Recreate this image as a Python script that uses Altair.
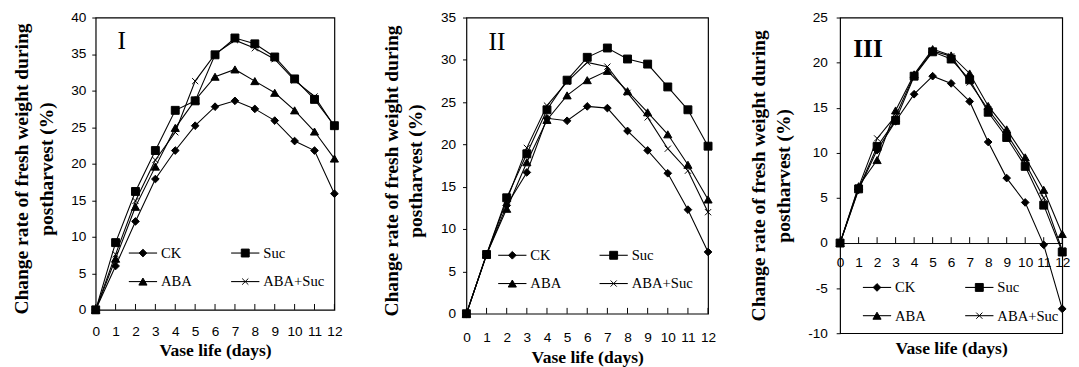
import altair as alt
import pandas as pd

days = list(range(13))
series = ["CK", "Suc", "ABA", "ABA+Suc"]

# Panel I
p1_ck = [0, 6.0, 12.1, 17.9, 21.8, 25.2, 27.8, 28.6, 27.5, 25.9, 23.1, 21.8, 15.9]
p1_suc = [0, 9.2, 16.2, 21.8, 27.3, 28.6, 34.9, 37.2, 36.4, 34.6, 31.6, 28.8, 25.2]
p1_aba = [0, 7.0, 14.1, 19.6, 24.9, 28.7, 31.9, 32.9, 31.3, 29.7, 27.3, 24.4, 20.7]
p1_as = [0, 7.6, 14.9, 20.5, 24.3, 31.3, 35.0, 36.9, 35.8, 34.3, 31.4, 29.2, 25.1]

# Panel II
p2_ck = [0, 7.0, 12.8, 16.7, 23.1, 22.8, 24.5, 24.3, 21.6, 19.3, 16.6, 12.3, 7.3]
p2_suc = [0, 7.0, 13.7, 18.9, 24.1, 27.6, 30.3, 31.4, 30.1, 29.5, 26.8, 24.1, 19.8]
p2_aba = [0, 7.0, 12.4, 17.9, 22.9, 25.8, 27.6, 28.7, 26.3, 23.8, 21.2, 17.6, 13.5]
p2_as = [0, 7.0, 13.4, 19.6, 24.6, 27.4, 29.7, 29.2, 26.1, 23.2, 19.5, 16.9, 12.0]

# Panel III
p3_ck = [0, 5.9, 10.3, 13.5, 16.5, 18.5, 17.7, 15.7, 11.2, 7.2, 4.5, -0.2, -7.3]
p3_suc = [0, 6.0, 10.7, 13.6, 18.5, 21.2, 20.4, 18.1, 14.5, 11.7, 8.5, 4.2, -1.0]
p3_aba = [0, 6.3, 9.2, 14.7, 18.7, 21.5, 20.8, 18.8, 15.2, 12.6, 9.5, 5.9, 1.0]
p3_as = [0, 6.2, 11.6, 14.1, 18.6, 21.3, 20.7, 17.8, 14.8, 12.1, 8.9, 5.0, -0.8]

shapes = ["diamond", "square", "triangle-up", "M-1,-1L1,1M-1,1L1,-1"]
sizes = [62, 66, 70, 40]

SERIF = "Liberation Serif"
SANS = "Liberation Sans"
YTITLE = ["Change rate of fresh weight during", "postharvest (%)"]
XTITLE = "Vase life (days)"


def one():
    return pd.DataFrame({"a": [0]})


def panel(vals, ymin, ymax, W, H, roman, rx, ry, rbold, leg_cols, leg_rows,
          xlab_pad, xtitle_y, ylab_pad, ytitle_shift, mid_axis):
    df = pd.DataFrame({
        "day": days * 4,
        "value": [v for s in vals for v in s],
        "series": [s for s in series for _ in days],
    })
    xs = alt.Scale(domain=[0, 12], nice=False, zero=False)
    ys = alt.Scale(domain=[ymin, ymax], nice=False, zero=False)
    y0px = H * ymax / (ymax - ymin)
    axis_px = y0px if mid_axis else H
    xaxis = alt.Axis(
        values=days, ticks=False, domain=mid_axis, domainColor="black",
        domainWidth=1, grid=False, labelAngle=0, labelFont=SANS,
        labelFontSize=14, labelColor="black", labelPadding=xlab_pad,
        labelFlush=False, title=XTITLE, titleFont=SERIF, titleFontSize=18,
        titleFontWeight="bold", titleColor="black", titleY=xtitle_y,
        titleBaseline="alphabetic",
        offset=-(H - y0px) if mid_axis else 0,
    )
    yaxis = alt.Axis(
        values=list(range(ymin, ymax + 1, 5)), tickSize=4, tickColor="black",
        domain=False, grid=False, labelFont=SANS, labelFontSize=14,
        labelColor="black", labelPadding=ylab_pad,
        labelExpr="'' + datum.value",
        title=YTITLE, titleFont=SERIF, titleFontSize=20,
        titleFontWeight="bold", titleColor="black", titleLineHeight=25,
        titlePadding=15, titleY=H / 2 + ytitle_shift,
    )
    X = alt.X("day:Q", scale=xs, axis=xaxis)
    Y = alt.Y("value:Q", scale=ys, axis=yaxis)

    layers = []
    for s, shp, sz in zip(series, shapes, sizes):
        sub = alt.Chart(df).transform_filter(alt.datum.series == s)
        layers.append(sub.mark_line(color="black", strokeWidth=1.1).encode(x=X, y=Y))
        layers.append(
            sub.mark_point(shape=shp, size=sz, filled=True, fill="black",
                           stroke="black", strokeWidth=1, opacity=1)
            .encode(x=X, y=Y)
        )
    # inward x ticks
    layers.append(
        alt.Chart(pd.DataFrame({"day": days}))
        .mark_rule(color="black", strokeWidth=1)
        .encode(x=X, y=alt.value(axis_px), y2=alt.value(axis_px - 6))
    )
    # panel numeral
    layers.append(
        alt.Chart(one()).mark_text(font=SERIF, fontSize=26,
                                   fontWeight="bold" if rbold else "normal",
                                   align="center", baseline="middle", color="black")
        .encode(x=alt.value(rx), y=alt.value(ry), text=alt.value(roman))
    )
    # legend
    for i, (s, shp, sz) in enumerate(zip(series, shapes, sizes)):
        cx = leg_cols[i % 2]
        cy = leg_rows[i // 2]
        layers.append(
            alt.Chart(one()).mark_rule(color="black", strokeWidth=1.1)
            .encode(x=alt.value(cx), x2=alt.value(cx + 29), y=alt.value(cy))
        )
        layers.append(
            alt.Chart(one()).mark_point(shape=shp, size=sz, filled=True, fill="black",
                                        stroke="black", strokeWidth=1, opacity=1)
            .encode(x=alt.value(cx + 14.5), y=alt.value(cy))
        )
        layers.append(
            alt.Chart(one()).mark_text(font=SERIF, fontSize=15, align="left",
                                       baseline="middle", color="black")
            .encode(x=alt.value(cx + 33), y=alt.value(cy), text=alt.value(s))
        )
    return alt.layer(*layers).properties(width=W, height=H)


p1 = panel([p1_ck, p1_suc, p1_aba, p1_as], 0, 40, 245, 300, "I", 26.7, 24, False,
           [34, 139], [241.7, 271], 15, 46.7, 6, 5, False)
p2 = panel([p2_ck, p2_suc, p2_aba, p2_as], 0, 35, 248, 304, "II", 31.3, 25, False,
           [32.6, 136.6], [244, 273], 17, 50, 7, 5, False)
p3 = panel([p3_ck, p3_suc, p3_aba, p3_as], -10, 25, 228, 324, "III", 28.7, 33, True,
           [23.4, 128.4], [277, 306], 13, 113.7, 9, 0, True)

chart = (
    alt.hconcat(p1, p2, p3, spacing=135.5, bounds="flush")
    .resolve_scale(x="independent", y="independent")
    .properties(padding={"left": 3, "top": -3, "right": 0, "bottom": 0},
                background="white")
    .configure_view(stroke="black", strokeWidth=1.2)
)

chart.save("out.html", embed_options={"renderer": "svg", "actions": False})
